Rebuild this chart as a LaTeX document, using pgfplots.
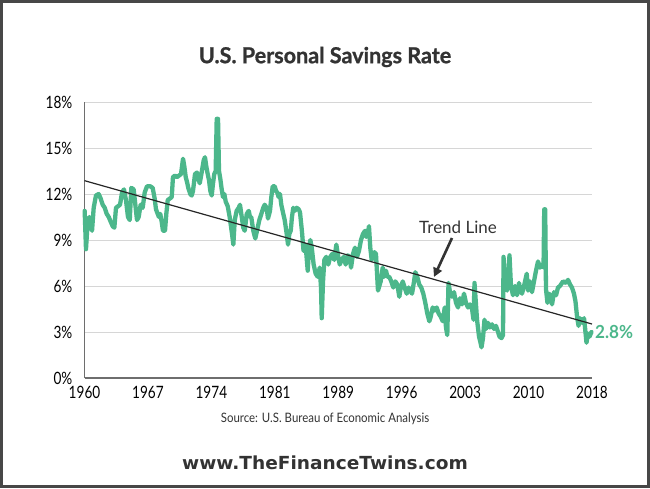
\documentclass[border=0pt]{standalone}
\usepackage{pgfplots}
\pgfplotsset{compat=1.18}
\usepackage{fontspec}
\setmainfont{Lato}
\newfontfamily\heavy{Lato}[FakeBold=0.9]
\newfontfamily\web{DejaVu Sans}
\usetikzlibrary{arrows.meta}
\definecolor{sgreen}{HTML}{4CB78B}
\definecolor{tgray}{HTML}{333333}
\definecolor{gridgray}{HTML}{D6D6D6}
\definecolor{axgray}{HTML}{6E6E6E}
\definecolor{bordergray}{HTML}{474747}
\newcommand{\sq}[2]{\scalebox{#1}[1]{#2}}
\newcommand{\tl}[1]{\sq{0.8}{#1}}
\begin{document}
\begin{tikzpicture}[x=1pt,y=1pt]
\fill[white] (0,0) rectangle (650,488);
\begin{axis}[
  at={(84.5pt,110pt)}, anchor=south west,
  width=507.5pt, height=276pt, scale only axis,
  xmin=1960, xmax=2018, ymin=0, ymax=18,
  axis x line*=bottom, axis y line*=left,
  x axis line style={draw=axgray, line width=1.6pt, -},
  y axis line style={draw=axgray, line width=1pt, -},
  major tick length=0pt,
  ytick={0,3,6,9,12,15,18},
  yticklabels={\tl{0\%},\tl{3\%},\tl{6\%},\tl{9\%},\tl{12\%},\tl{15\%},\tl{18\%}},
  xtick={1960,1967.25,1974.5,1981.75,1989,1996.25,2003.5,2010.75,2018},
  xticklabels={\tl{1960},\tl{1967},\tl{1974},\tl{1981},\tl{1989},\tl{1996},\tl{2003},\tl{2010},\tl{2018}},
  ymajorgrids, major grid style={draw=gridgray, line width=1pt},
  yticklabel style={anchor=east, inner sep=0pt, xshift=-12pt, font=\fontsize{17}{17}\selectfont, text=black},
  xticklabel style={anchor=north, inner sep=0pt, yshift=-8pt, font=\fontsize{17}{17}\selectfont, text=black},
  clip=false,
]
\addplot[sgreen, line width=4.3pt, line join=round, line cap=round] coordinates {
(1960.02,10.9) (1960.17,8.4) (1960.32,9.8) (1960.55,10.5) (1960.86,9.6) (1961.05,11.1) (1961.31,11.9) (1961.62,12.0) (1961.85,11.7)
(1962.08,11.3) (1962.31,11.1) (1962.54,10.7) (1962.77,10.5) (1962.99,10.2) (1963.22,9.9) (1963.41,9.8) (1963.60,11.1) (1963.83,11.2)
(1964.06,11.3) (1964.29,12.1) (1964.51,12.3) (1964.74,11.6) (1964.97,10.5) (1965.17,10.3) (1965.35,12.4) (1965.62,12.3) (1965.81,11.3)
(1966.00,10.3) (1966.19,10.5) (1966.42,11.3) (1966.65,11.1) (1966.88,12.1) (1967.14,12.5) (1967.52,12.5) (1967.79,12.4) (1968.02,11.7)
(1968.17,11.0) (1968.37,10.7) (1968.51,10.5) (1968.66,10.7) (1968.82,10.2) (1968.97,9.6) (1969.20,9.6) (1969.35,10.7) (1969.51,11.6)
(1969.74,11.7) (1969.97,11.8) (1970.11,13.1) (1970.34,13.2) (1970.57,13.1) (1970.80,13.2) (1971.03,13.3) (1971.26,14.3) (1971.41,13.8)
(1971.57,13.1) (1971.71,12.8) (1971.86,12.4) (1972.09,12.0) (1972.25,11.9) (1972.40,12.2) (1972.63,13.3) (1972.86,13.4) (1973.01,13.0)
(1973.17,12.7) (1973.39,13.4) (1973.62,14.2) (1973.77,14.4) (1973.92,13.8) (1974.08,13.3) (1974.23,12.9) (1974.38,12.2) (1974.54,11.9)
(1974.69,12.7) (1974.83,13.3) (1974.99,13.5) (1975.11,16.9) (1975.26,16.9) (1975.37,13.5) (1975.52,13.0) (1975.68,12.3) (1975.83,11.8)
(1975.98,12.0) (1976.14,11.5) (1976.37,11.2) (1976.59,10.5) (1976.86,9.4) (1977.01,8.7) (1977.17,10.3) (1977.39,10.9) (1977.62,11.1)
(1977.77,11.3) (1977.92,10.7) (1978.15,9.8) (1978.31,9.6) (1978.54,10.7) (1978.77,10.9) (1978.91,10.5) (1979.06,10.5) (1979.29,9.6)
(1979.52,9.1) (1979.75,9.7) (1979.98,10.3) (1980.21,10.7) (1980.43,11.1) (1980.59,11.3) (1980.82,11.1) (1980.97,10.4) (1981.20,10.9)
(1981.35,11.8) (1981.51,12.5) (1981.74,12.5) (1981.89,12.2) (1982.03,12.1) (1982.19,11.8) (1982.34,12.0) (1982.49,11.3) (1982.72,10.7)
(1982.88,10.3) (1983.11,9.4) (1983.26,8.7) (1983.41,9.4) (1983.57,9.6) (1983.71,10.5) (1983.86,11.1) (1984.02,10.9) (1984.25,11.1)
(1984.48,11.0) (1984.63,10.8) (1984.86,9.5) (1985.03,8.3) (1985.20,8.7) (1985.35,8.1) (1985.51,7.0) (1985.66,8.5) (1985.81,9.0)
(1985.97,8.5) (1986.19,7.4) (1986.42,6.8) (1986.65,6.6) (1986.88,7.2) (1987.03,5.9) (1987.11,3.9) (1987.26,6.3) (1987.41,7.7)
(1987.63,7.9) (1987.86,7.4) (1988.09,7.9) (1988.32,8.1) (1988.55,7.7) (1988.78,8.7) (1988.94,8.1) (1989.17,7.4) (1989.39,7.7)
(1989.62,7.9) (1989.85,7.4) (1990.08,8.0) (1990.31,7.9) (1990.46,7.2) (1990.69,8.1) (1990.91,8.5) (1991.14,7.9) (1991.37,8.3)
(1991.60,9.0) (1991.83,9.4) (1992.06,9.6) (1992.21,9.2) (1992.37,9.4) (1992.51,9.9) (1992.66,8.5) (1992.82,7.7) (1992.97,8.1)
(1993.14,8.2) (1993.31,8.1) (1993.54,5.7) (1993.85,6.3) (1994.08,7.2) (1994.23,6.6) (1994.46,7.0) (1994.61,6.6) (1994.83,6.6)
(1995.06,6.3) (1995.29,5.9) (1995.52,6.3) (1995.75,6.1) (1995.98,5.3) (1996.14,5.9) (1996.37,6.3) (1996.59,5.9) (1996.82,5.5)
(1997.05,5.9) (1997.20,5.7) (1997.43,5.5) (1997.66,6.3) (1997.81,6.9) (1998.03,6.6) (1998.26,6.1) (1998.49,5.9) (1998.72,5.5)
(1998.95,4.9) (1999.18,4.2) (1999.41,3.7) (1999.57,4.0) (1999.79,4.6) (2000.02,4.4) (2000.25,4.6) (2000.48,4.2) (2000.71,4.0)
(2000.94,3.7) (2001.17,4.6) (2001.31,3.3) (2001.46,2.8) (2001.60,6.2) (2001.77,5.6) (2002.00,5.3) (2002.23,5.6) (2002.46,4.9)
(2002.69,4.6) (2002.91,5.2) (2003.14,4.8) (2003.37,5.5) (2003.60,4.9) (2003.83,4.6) (2004.06,4.8) (2004.29,4.5) (2004.46,3.8)
(2004.57,6.2) (2004.74,4.8) (2004.86,3.8) (2005.09,2.7) (2005.26,2.3) (2005.37,2.0) (2005.54,2.6) (2005.71,3.8) (2005.89,3.2)
(2006.11,3.6) (2006.34,3.3) (2006.57,3.5) (2006.80,3.2) (2007.03,3.4) (2007.26,3.0) (2007.43,2.7) (2007.66,2.6) (2007.83,2.8)
(2007.89,7.9) (2008.06,6.0) (2008.29,5.7) (2008.57,8.0) (2008.74,6.0) (2008.97,5.4) (2009.20,6.0) (2009.43,5.4) (2009.66,6.2)
(2009.77,5.8) (2010.00,5.5) (2010.23,6.0) (2010.54,6.8) (2010.69,5.7) (2010.91,6.3) (2011.14,5.6) (2011.37,6.3) (2011.60,7.0)
(2011.83,7.6) (2012.06,7.2) (2012.29,7.4) (2012.46,7.2) (2012.54,11.0) (2012.65,11.0) (2012.74,5.8) (2012.91,4.9) (2013.09,5.5)
(2013.31,5.3) (2013.43,4.8) (2013.66,5.6) (2013.89,5.4) (2014.11,5.9) (2014.34,6.0) (2014.69,6.3) (2015.03,6.2) (2015.26,6.4)
(2015.49,6.1) (2015.71,5.9) (2015.94,5.5) (2016.11,5.0) (2016.29,4.0) (2016.46,3.4) (2016.63,3.9) (2016.86,3.6) (2017.09,3.9)
(2017.20,3.3) (2017.37,2.3) (2017.54,2.9) (2017.71,2.7) (2017.94,3.0)
};
\addplot[black!85, line width=1.2pt] coordinates {(1960,12.87) (2018,3.52)};
\draw[-{Triangle[length=9pt,width=9pt]}, line width=2.6pt, tgray] (axis cs:2002.0,9.13) -- (axis cs:1999.94,6.59);
\node[font=\fontsize{17}{17}\selectfont, text=tgray, inner sep=0pt] at (axis cs:2002.69,9.85) {Trend Line};
\node[font=\fontsize{18}{18}\selectfont\bfseries, text=sgreen, anchor=west, inner sep=0pt] at (axis cs:2018.34,3.0) {\sq{0.95}{2.8\%}};
\end{axis}
\node[font=\fontsize{22}{22}\selectfont\heavy\bfseries, text=tgray, inner sep=0pt] at (325,431) {\sq{0.98}{U.S. Personal Savings Rate}};
\node[font=\fontsize{13}{13}\selectfont, text=tgray, inner sep=0pt] at (325,69) {\sq{0.88}{Source: U.S. Bureau of Economic Analysis}};
\node[font=\fontsize{18}{18}\selectfont\web\bfseries, text=tgray, inner sep=0pt] at (325,25) {\sq{1.03}{www.TheFinanceTwins.com}};
\draw[bordergray, line width=3pt] (1.5,1.5) rectangle (648.5,486.5);
\end{tikzpicture}
\end{document}
